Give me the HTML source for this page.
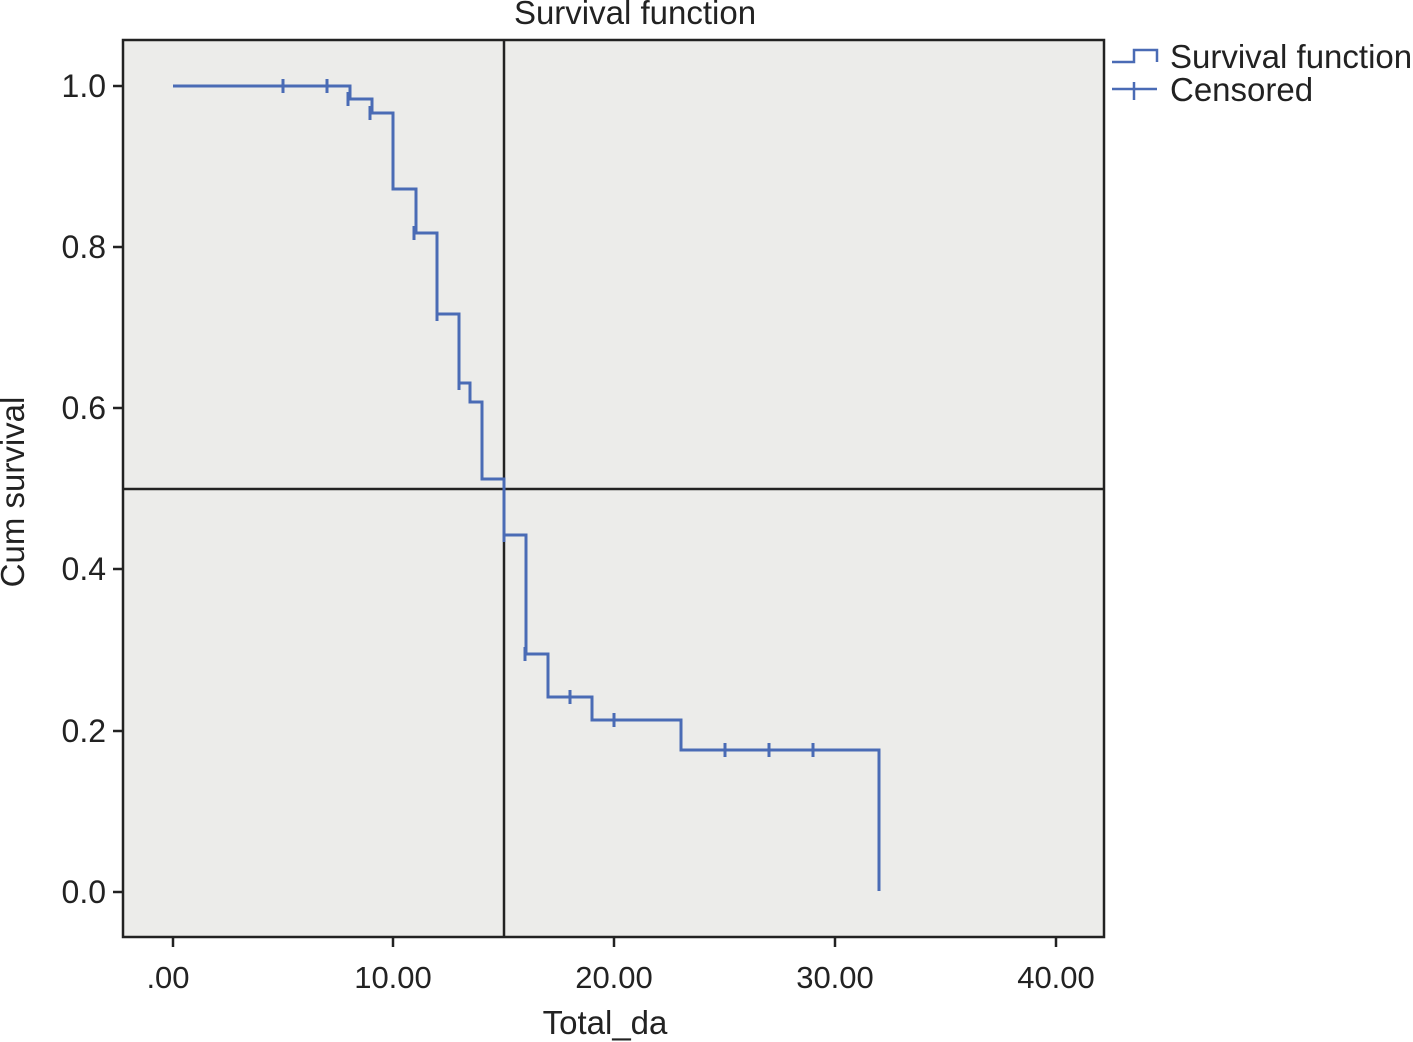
<!DOCTYPE html>
<html><head><meta charset="utf-8"><style>
html,body{margin:0;padding:0;background:#fff;}
svg{display:block;font-family:"Liberation Sans",Arial,sans-serif;}
</style></head><body>
<svg width="1413" height="1042" viewBox="0 0 1413 1042">
<rect x="123" y="40" width="981" height="897" fill="#ececea" stroke="#222" stroke-width="2.5"/>
<text x="635" y="24" font-size="33" text-anchor="middle" fill="#222">Survival function</text>
<g stroke="#222" stroke-width="2.5">
<line x1="113" y1="86" x2="123" y2="86"/><line x1="113" y1="247" x2="123" y2="247"/><line x1="113" y1="408" x2="123" y2="408"/><line x1="113" y1="569" x2="123" y2="569"/><line x1="113" y1="731" x2="123" y2="731"/><line x1="113" y1="892" x2="123" y2="892"/>
<line x1="173" y1="937" x2="173" y2="947"/><line x1="393" y1="937" x2="393" y2="947"/><line x1="614" y1="937" x2="614" y2="947"/><line x1="835" y1="937" x2="835" y2="947"/><line x1="1056" y1="937" x2="1056" y2="947"/>
</g>
<g font-size="32" fill="#222" text-anchor="end">
<text x="106" y="97">1.0</text><text x="106" y="258">0.8</text><text x="106" y="419">0.6</text><text x="106" y="580">0.4</text><text x="106" y="742">0.2</text><text x="106" y="903">0.0</text>
</g>
<g font-size="31" fill="#222" text-anchor="middle">
<text x="168" y="988">.00</text><text x="393" y="988">10.00</text><text x="614" y="988">20.00</text><text x="835" y="988">30.00</text><text x="1056" y="988">40.00</text>
</g>
<text x="605" y="1034" font-size="33" fill="#222" text-anchor="middle">Total_da</text>
<text transform="translate(24,492) rotate(-90)" font-size="33" fill="#222" text-anchor="middle">Cum survival</text>
<line x1="504" y1="40" x2="504" y2="937" stroke="#222" stroke-width="2.5"/>
<line x1="123" y1="489" x2="1104" y2="489" stroke="#222" stroke-width="2.5"/>
<path d="M173,86 H350 V99 H372 V113 H393 V189 H416 V233 H437 V314 H459 V383 H470 V402 H482 V479 H504 V535 H526 V654 H548 V697 H592 V720 H681 V750 H879 V891" fill="none" stroke="#4a6bb5" stroke-width="3"/>
<g stroke="#4a6bb5" stroke-width="3">
<line x1="283" y1="79" x2="283" y2="93"/><line x1="327" y1="79" x2="327" y2="93"/><line x1="348" y1="92" x2="348" y2="106"/><line x1="370" y1="106" x2="370" y2="120"/><line x1="414" y1="226" x2="414" y2="240"/><line x1="437" y1="307" x2="437" y2="321"/><line x1="459" y1="376" x2="459" y2="390"/><line x1="504" y1="528" x2="504" y2="542"/><line x1="525" y1="647" x2="525" y2="661"/><line x1="570" y1="690" x2="570" y2="704"/><line x1="614" y1="713" x2="614" y2="727"/><line x1="725" y1="743" x2="725" y2="757"/><line x1="769" y1="743" x2="769" y2="757"/><line x1="813" y1="743" x2="813" y2="757"/>
</g>
<path d="M1112,62 H1134 V50 H1157 V62" fill="none" stroke="#4a6bb5" stroke-width="2.5"/>
<line x1="1112" y1="89" x2="1157" y2="89" stroke="#4a6bb5" stroke-width="2.5"/>
<line x1="1134" y1="82" x2="1134" y2="100" stroke="#4a6bb5" stroke-width="2.5"/>
<text x="1170" y="68" font-size="33" fill="#222">Survival function</text>
<text x="1170" y="101" font-size="33" fill="#222">Censored</text>
</svg>
</body></html>
